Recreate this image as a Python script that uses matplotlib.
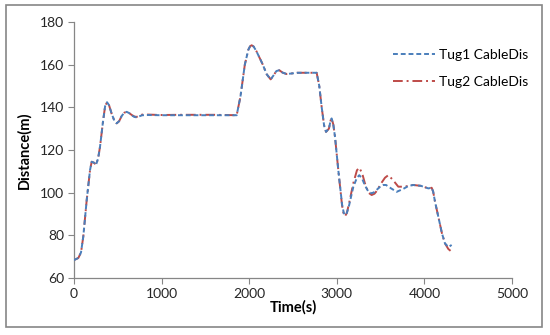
import matplotlib
matplotlib.use("Agg")
import matplotlib.pyplot as plt
from matplotlib.patches import Rectangle

# values
time_tug1 = [0, 50, 80, 106, 145, 183, 202, 230, 251, 275, 297, 330, 355, 377, 400,
             430, 460, 487, 515, 545, 575, 601, 630, 660, 690, 715, 745, 780, 845,
             1000, 1200, 1400, 1600, 1857, 1900, 1950, 1990, 2010, 2028, 2050, 2080,
             2150, 2200, 2245, 2275, 2310, 2344, 2380, 2428, 2550, 2770, 2800, 2827,
             2855, 2877, 2910, 2930, 2941, 2960, 2980, 3017, 3060, 3080, 3094, 3115,
             3140, 3189, 3230, 3257, 3290, 3320, 3360, 3398, 3430, 3460, 3500, 3531,
             3562, 3620, 3684, 3760, 3820, 3873, 3960, 4045, 4083, 4100, 4120, 4159,
             4200, 4235, 4275, 4311]
dist_tug1 = [68.4, 69.4, 72.0, 79.4, 96.5, 110.6, 114.5, 114.0, 113.0, 116.0, 121.5,
             133.0, 140.5, 142.4, 141.0, 137.0, 133.8, 132.5, 133.5, 136.0, 137.5,
             137.9, 137.3, 136.2, 135.5, 135.3, 135.8, 136.3, 136.4, 136.3, 136.3,
             136.3, 136.3, 136.3, 145.0, 160.0, 167.0, 168.6, 169.1, 168.5, 166.5,
             160.5, 155.5, 153.1, 154.8, 157.0, 157.4, 156.3, 155.6, 156.2, 156.2,
             150.0, 140.2, 131.5, 128.5, 130.0, 134.0, 134.8, 132.0, 126.0, 110.6,
             94.5, 90.5, 89.5, 90.5, 94.0, 102.8, 107.0, 108.2, 106.5, 103.5, 100.5,
             99.7, 100.3, 101.5, 103.0, 103.6, 103.6, 102.0, 100.4, 101.8, 103.2,
             103.6, 103.2, 102.0, 102.3, 100.5, 96.0, 88.7, 81.0, 76.2, 74.5, 75.5]

time_tug2 = [0, 50, 80, 106, 145, 183, 202, 230, 251, 275, 297, 330, 355, 377, 400,
             430, 460, 487, 515, 545, 575, 601, 630, 660, 690, 715, 745, 780, 845,
             1000, 1200, 1400, 1600, 1857, 1900, 1950, 1990, 2010, 2028, 2050, 2080,
             2150, 2200, 2245, 2275, 2310, 2344, 2380, 2428, 2550, 2770, 2800, 2827,
             2855, 2877, 2910, 2930, 2941, 2960, 2980, 3017, 3060, 3080, 3094, 3115,
             3140, 3189, 3230, 3257, 3290, 3320, 3360, 3398, 3430, 3460, 3500, 3550,
             3588, 3640, 3702, 3780, 3820, 3873, 3960, 4045, 4083, 4100, 4120, 4159,
             4200, 4235, 4273, 4311]
dist_tug2 = [68.4, 69.4, 72.0, 79.4, 96.5, 110.6, 114.5, 114.0, 113.0, 116.0, 121.5,
             133.0, 140.5, 142.4, 141.0, 137.0, 133.8, 132.5, 133.5, 136.0, 137.5,
             137.9, 137.3, 136.4, 135.7, 135.5, 136.2, 136.6, 136.6, 136.4, 136.5,
             136.5, 136.5, 136.3, 145.0, 160.0, 167.0, 168.6, 169.1, 168.5, 166.5,
             160.5, 155.5, 153.1, 154.8, 157.0, 157.4, 156.3, 155.6, 156.2, 156.2,
             150.0, 140.2, 131.5, 128.5, 130.0, 134.0, 134.8, 132.0, 126.0, 110.6,
             94.0, 89.5, 89.0, 90.5, 95.0, 104.5, 110.5, 111.7, 109.0, 104.5, 100.0,
             98.9, 99.5, 101.0, 104.0, 107.0, 108.2, 106.0, 102.8, 102.8, 103.3,
             103.6, 103.2, 102.0, 102.3, 100.5, 96.0, 88.7, 81.0, 76.2, 73.6, 72.3]

xticks = [0, 1000, 2000, 3000, 4000, 5000]
yticks = [60, 80, 100, 120, 140, 160, 180]

BLUE = "#4A7EBB"
RED = "#BE4B48"
GRAY = "#868686"
FONT = ["Lato", "DejaVu Sans"]

plt.rcParams["font.family"] = FONT

fig = plt.figure(figsize=(5.5, 3.35), dpi=100)
ax = fig.add_axes([74 / 550, 1 - 278 / 335, (512 - 74) / 550, (278 - 22) / 335])

ax.plot(time_tug1, dist_tug1, color=BLUE, lw=1.4, ls=(0, (2.5, 1.5)),
        label="Tug1 CableDis", zorder=3)
ax.plot(time_tug2, dist_tug2, color=RED, lw=1.4, ls=(0, (5, 2, 1, 2)),
        label="Tug2 CableDis", zorder=2)

ax.set_xlim(0, 5000)
ax.set_ylim(60, 180)
ax.set_xticks(xticks)
ax.set_yticks(yticks)
ax.tick_params(direction="out", length=4, width=0.8, color=GRAY,
               labelsize=10, labelcolor="#262626", pad=3)
for s in ["top", "right"]:
    ax.spines[s].set_visible(False)
for s in ["left", "bottom"]:
    ax.spines[s].set_color(GRAY)
    ax.spines[s].set_linewidth(0.9)

ax.set_xlabel("Time(s)", fontsize=10.5, fontweight="bold", labelpad=0)
ax.set_ylabel("Distance(m)", fontsize=10.5, fontweight="bold", labelpad=6)

ax.legend(loc="upper left", bbox_to_anchor=(0.7, 0.945), frameon=False,
          fontsize=10, handlelength=3.0, handletextpad=0.3, labelspacing=1.1)

# outer chart border like the spreadsheet chart area
fig.patches.append(Rectangle((6 / 550, 1 - 327 / 335), 536 / 550, 322 / 335,
                             transform=fig.transFigure, fill=False,
                             edgecolor=GRAY, lw=1.2))

fig.savefig("out.png", dpi=100)
